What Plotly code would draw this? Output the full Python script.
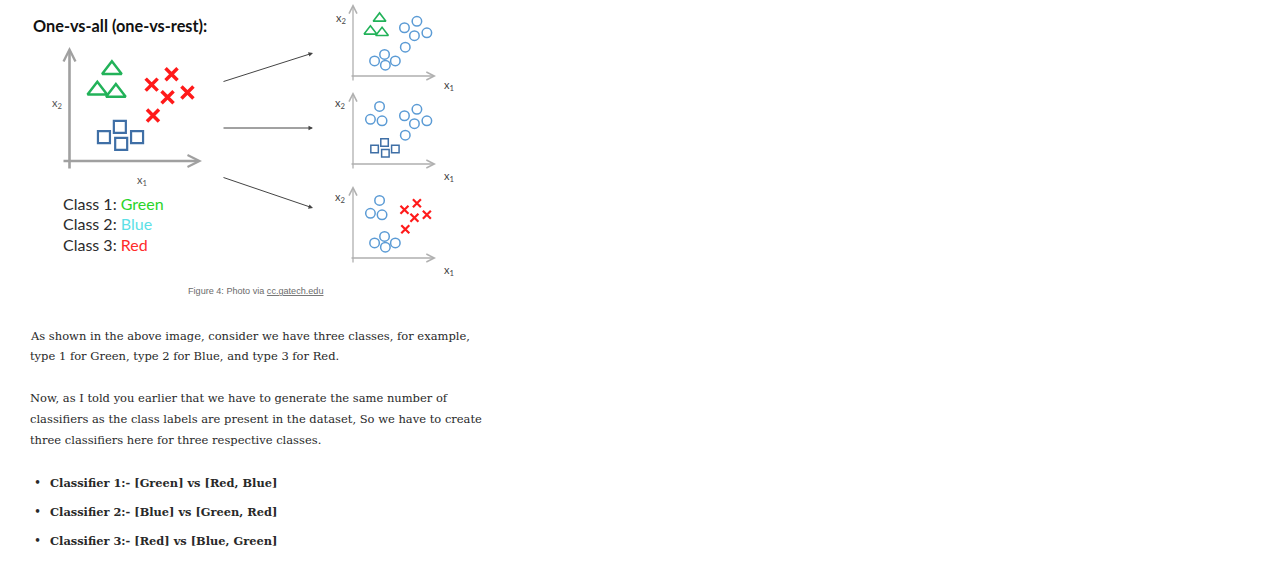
import plotly.graph_objects as go

W, H = 1266, 582

# ---- data (diagram units: x1, x2 in 0..10 along each drawn axis) ----
green_x1 = [3.2, 2.1, 3.5]
green_x2 = [8.0, 6.2, 6.0]
red_x1 = [7.7, 6.2, 7.4, 8.9, 6.3]
red_x2 = [7.6, 6.7, 5.6, 6.0, 4.0]
blue_x1 = [3.8, 2.6, 3.9, 5.1]
blue_x2 = [3.0, 2.1, 1.5, 2.1]

title_text = "One-vs-all (one-vs-rest):"
class_names = ["Green", "Blue", "Red"]
class_colors = ["#2ad42a", "#5ce0e6", "#ff2b2b"]
caption = "Figure 4: Photo via "
caption_link = "cc.gatech.edu"
paragraph_lines = [
    "As shown in the above image, consider we have three classes, for example,",
    "type 1 for Green, type 2 for Blue, and type 3 for Red.",
    "Now, as I told you earlier that we have to generate the same number of",
    "classifiers as the class labels are present in the dataset, So we have to create",
    "three classifiers here for three respective classes.",
]
bullets = [
    "Classifier 1:- [Green] vs [Red, Blue]",
    "Classifier 2:- [Blue] vs [Green, Red]",
    "Classifier 3:- [Red] vs [Blue, Green]",
]

GREEN = "#22b259"
RED = "#ff1a1a"
BLUE_SQ = "#3f6fa6"
BLUE_CIRC = "#5b9bd5"


def px(x):
    return x / W


def py(y):
    return 1 - y / H


fig = go.Figure()

# panels: (origin_x, origin_y, tip_x, tip_y) in page pixels
panels = [
    (69.5, 161, 202, 47),
    (353, 76, 436, 4),
    (353, 164, 436, 92),
    (353, 258, 436, 186),
]
panel_focus = [None, "green", "blue", "red"]

layout_axes = {}
for i, (ox, oy, tx, ty) in enumerate(panels):
    n = i + 1
    xa = "xaxis" if n == 1 else f"xaxis{n}"
    ya = "yaxis" if n == 1 else f"yaxis{n}"
    layout_axes[xa] = dict(domain=[px(ox), px(tx)], range=[0, 10], visible=False,
                           fixedrange=True, anchor="y" if n == 1 else f"y{n}")
    layout_axes[ya] = dict(domain=[py(oy), py(ty)], range=[0, 10], visible=False,
                           fixedrange=True, anchor="x" if n == 1 else f"x{n}")


def add(xs, ys, n, symbol, color, size, lw):
    fig.add_trace(go.Scatter(
        x=xs, y=ys, mode="markers", cliponaxis=False, showlegend=False,
        hoverinfo="skip",
        xaxis="x" if n == 1 else f"x{n}", yaxis="y" if n == 1 else f"y{n}",
        marker=dict(symbol=symbol, color=color, size=size,
                    line=dict(width=lw, color=color)),
    ))


# main panel
add(green_x1, green_x2, 1, "triangle-up-open", GREEN, 17, 2.5)
add(red_x1, red_x2, 1, "x-thin-open", RED, 12, 3.5)
add(blue_x1, blue_x2, 1, "square-open", BLUE_SQ, 12, 2.2)

# right panels
for i, focus in enumerate(panel_focus):
    if focus is None:
        continue
    n = i + 1
    others_x, others_y = [], []
    if focus == "green":
        add(green_x1, green_x2, n, "triangle-up-open", GREEN, 11, 1.6)
    else:
        others_x += green_x1
        others_y += green_x2
    if focus == "red":
        add(red_x1, red_x2, n, "x-thin-open", RED, 8, 2.2)
    else:
        others_x += red_x1
        others_y += red_x2
    if focus == "blue":
        add(blue_x1, blue_x2, n, "square-open", BLUE_SQ, 7.5, 1.5)
    else:
        others_x += blue_x1
        others_y += blue_x2
    add(others_x, others_y, n, "circle-open", BLUE_CIRC, 9.5, 1.5)

ann = []


def text(x, y, s, size, color, family, xanchor="left", weight=None):
    f = dict(size=size, color=color, family=family)
    if weight:
        f["weight"] = weight
    if xanchor == "left":
        x -= 2
    ann.append(dict(x=px(x), y=py(y), xref="paper", yref="paper", text=s,
                    showarrow=False, xanchor=xanchor, yanchor="middle", font=f))


def arrow(x0, y0, x1, y1, color, width, head, size):
    ann.append(dict(x=px(x1), y=py(y1), xref="paper", yref="paper", text="",
                    showarrow=True, ax=x0 - x1, ay=y0 - y1, axref="pixel", ayref="pixel",
                    arrowcolor=color, arrowwidth=width, arrowhead=head, arrowsize=size,
                    standoff=0, startstandoff=0))


# axes with arrowheads
ox, oy, tx, ty = panels[0]
arrow(ox, 170, ox, ty, "#a0a0a0", 2.6, 5, 0.9)
arrow(62, oy, tx, oy, "#a0a0a0", 2.6, 5, 0.9)
for (ox, oy, tx, ty) in panels[1:]:
    arrow(ox, oy + 6, ox, ty, "#b0b0b0", 1.3, 5, 1.2)
    arrow(350, oy, tx, oy, "#b0b0b0", 1.3, 5, 1.2)

# connecting arrows
arrow(222, 82, 313, 53, "#444444", 1, 2, 0.9)
arrow(222, 128, 313, 128, "#444444", 1, 2, 0.9)
arrow(222, 177, 313, 208, "#444444", 1, 2, 0.9)

# axis labels
text(57, 103, "x<sub>2</sub>", 11, "#555555", "Lato", "center")
text(142, 180, "x<sub>1</sub>", 11, "#555555", "Lato", "center")
for (lx2, ly2, lx1, ly1) in [(341, 19, 449, 85), (340, 103, 449, 176), (340, 197, 449, 270)]:
    text(lx2, ly2, "x<sub>2</sub>", 11, "#444444", "Lato", "center")
    text(lx1, ly1, "x<sub>1</sub>", 11, "#444444", "Lato", "center")

# title
text(33, 26, f"<b>{title_text}</b>", 16.3, "#111111", "Lato")

# class labels
for k, (name, col) in enumerate(zip(class_names, class_colors)):
    text(63, 203 + k * 20.5,
         f"Class {k + 1}: <span style='color:{col}'>{name}</span>", 16, "#2b2b2b", "Lato")

# caption
text(188, 291, f"{caption}<span style='text-decoration:underline'>{caption_link}</span>",
     9.1, "#6b6b6b", "Liberation Sans")

# paragraphs
para_y = [336, 356, 398, 419, 440]
for s, yy in zip(paragraph_lines, para_y):
    text(30, yy, s, 11.5, "#292929", "DejaVu Serif")

bul_y = [483, 512, 541]
for s, yy in zip(bullets, bul_y):
    text(37, yy, "•", 12, "#292929", "DejaVu Serif", "center")
    text(50, yy, s, 11.4, "#292929", "DejaVu Serif", weight=600)

fig.update_layout(
    width=W, height=H, margin=dict(l=0, r=0, t=0, b=0),
    paper_bgcolor="white", plot_bgcolor="rgba(0,0,0,0)",
    annotations=ann, showlegend=False, **layout_axes,
)

fig.write_html("out.html", config={"displayModeBar": False},
               post_script="document.body.style.margin='0';document.body.style.overflow='hidden';")
